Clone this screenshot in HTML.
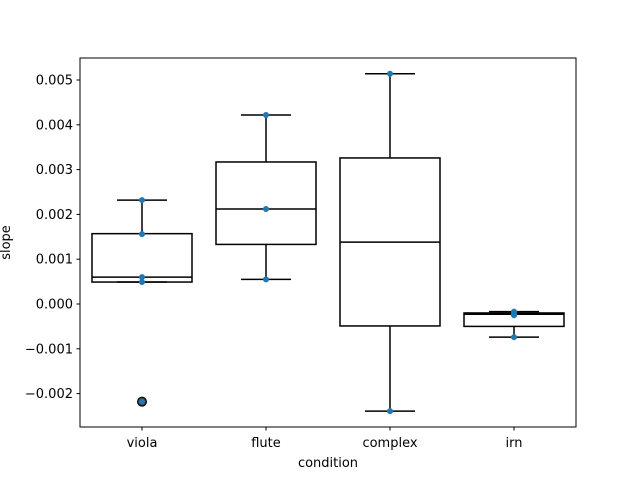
<!DOCTYPE html>
<html><head><meta charset="utf-8"><style>
body{margin:0;background:#fff;}
svg{display:block;font-family:"DejaVu Sans","Liberation Sans",sans-serif;}
</style></head><body>
<svg id="chart" width="640" height="480"></svg>
<script>
const categories=["viola","flute","complex","irn"];
const whiskerLow=[0.00049,0.00055,-0.00239,-0.00074];
const q1=[0.00049,0.00133,-0.00049,-0.0005];
const median=[0.0006,0.00212,0.00138,-0.00023];
const q3=[0.00157,0.00317,0.00326,-0.0002];
const whiskerHigh=[0.00232,0.00422,0.00514,-0.00017];
const outliers=[[-0.00218],[],[],[]];
const points=[[0.00232,0.00156,0.0006,0.00049,-0.00218],[0.00422,0.00212,0.00055],[0.00514,-0.00239],[-0.00017,-0.00022,-0.00025,-0.00074]];
const yTicks=[-0.002,-0.001,0,0.001,0.002,0.003,0.004,0.005];
const yTickLabels=["\u22120.002","\u22120.001","0.000","0.001","0.002","0.003","0.004","0.005"];

const NS="http://www.w3.org/2000/svg";
const svg=document.getElementById('chart');
const L=80,R=576,T=58,B=427;
function y(v){return 304-v*44800;}
function x(i){return L+(R-L)*(i+0.5)/categories.length;}
function el(tag,attrs,parent){const e=document.createElementNS(NS,tag);for(const k in attrs)e.setAttribute(k,attrs[k]);(parent||svg).appendChild(e);return e;}

const axes=el('rect',{x:L,y:T,width:R-L,height:B-T,fill:'none',stroke:'#000','stroke-width':1});



yTicks.forEach((v,i)=>{
  const g=el('g',{});
  
  
  el('line',{x1:L-3.5,x2:L,y1:y(v),y2:y(v),stroke:'#000'},g);
  const t=el('text',{x:L-7,y:y(v)+4.5,'text-anchor':'end','font-size':13},g);
  t.textContent=yTickLabels[i];
});
categories.forEach((c,i)=>{
  const g=el('g',{});
  
  
  el('line',{x1:x(i),x2:x(i),y1:B,y2:B+3.5,stroke:'#000'},g);
  const t=el('text',{x:x(i),y:B+20,'text-anchor':'middle','font-size':13},g);
  t.textContent=c;
});
const xt=el('text',{x:(L+R)/2,y:467,'text-anchor':'middle','font-size':13});
xt.textContent='condition';


const yt=el('text',{x:0,y:0,'text-anchor':'middle','font-size':13,transform:'translate(10,'+((T+B)/2)+') rotate(-90)'});
yt.textContent='slope';



categories.forEach((c,i)=>{
  const g=el('g',{stroke:'#000','stroke-width':1.5,fill:'none'});
  
  
  const cx=x(i),w=100,cw=50;
  el('rect',{x:cx-w/2,y:y(q3[i]),width:w,height:y(q1[i])-y(q3[i])},g);
  el('line',{x1:cx-w/2,x2:cx+w/2,y1:y(median[i]),y2:y(median[i])},g);
  el('line',{x1:cx,x2:cx,y1:y(q3[i]),y2:y(whiskerHigh[i])},g);
  el('line',{x1:cx,x2:cx,y1:y(q1[i]),y2:y(whiskerLow[i])},g);
  el('line',{x1:cx-cw/2,x2:cx+cw/2,y1:y(whiskerHigh[i]),y2:y(whiskerHigh[i])},g);
  el('line',{x1:cx-cw/2,x2:cx+cw/2,y1:y(whiskerLow[i]),y2:y(whiskerLow[i])},g);
  outliers[i].forEach(v=>{
    const o=el('circle',{cx:cx,cy:y(v),r:4.5,fill:'#3a3a3a',stroke:'#000','stroke-width':1});
    
    
  });
  points[i].forEach(v=>{
    const p=el('circle',{cx:cx,cy:y(v),r:3,fill:'#1f77b4',stroke:'none'});
    
    
  });
});
</script>
</body></html>
